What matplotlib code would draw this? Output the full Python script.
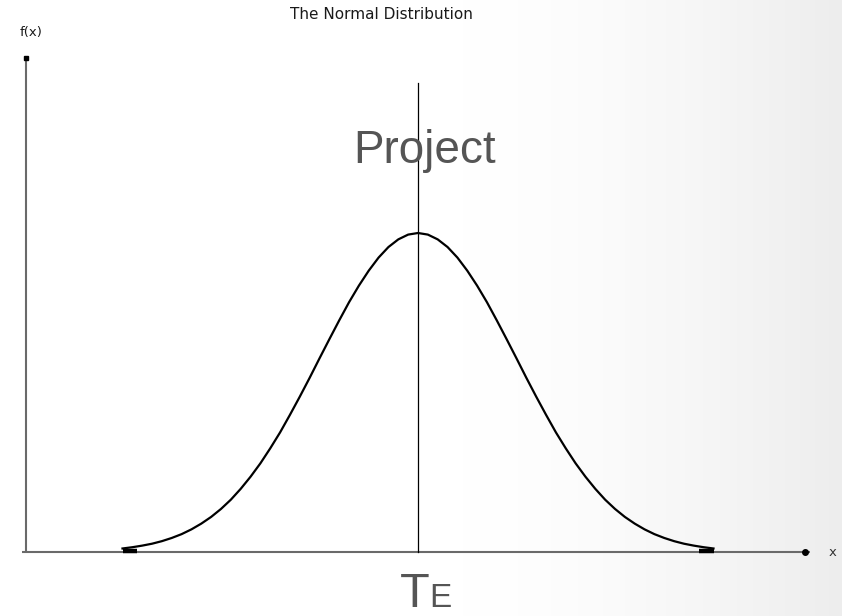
import numpy as np
import matplotlib.pyplot as plt

# curve heights (relative to the peak), x in sigma units
x_vals = [-3.0, -2.9, -2.8, -2.7, -2.6, -2.5, -2.4, -2.3, -2.2, -2.1,
          -2.0, -1.9, -1.8, -1.7, -1.6, -1.5, -1.4, -1.3, -1.2, -1.1,
          -1.0, -0.9, -0.8, -0.7, -0.6, -0.5, -0.4, -0.3, -0.2, -0.1,
          0.0, 0.1, 0.2, 0.3, 0.4, 0.5, 0.6, 0.7, 0.8, 0.9,
          1.0, 1.1, 1.2, 1.3, 1.4, 1.5, 1.6, 1.7, 1.8, 1.9,
          2.0, 2.1, 2.2, 2.3, 2.4, 2.5, 2.6, 2.7, 2.8, 2.9, 3.0]
f_vals = [0.011, 0.015, 0.020, 0.026, 0.034, 0.044, 0.056, 0.071, 0.089, 0.110,
          0.135, 0.164, 0.198, 0.236, 0.278, 0.325, 0.375, 0.430, 0.487, 0.546,
          0.607, 0.667, 0.726, 0.783, 0.835, 0.882, 0.923, 0.956, 0.980, 0.995,
          1.000, 0.995, 0.980, 0.956, 0.923, 0.882, 0.835, 0.783, 0.726, 0.667,
          0.607, 0.546, 0.487, 0.430, 0.375, 0.325, 0.278, 0.236, 0.198, 0.164,
          0.135, 0.110, 0.089, 0.071, 0.056, 0.044, 0.034, 0.026, 0.020, 0.015, 0.011]
mean_x = 0.0

title_text = 'The Normal Distribution'
y_label = 'f(x)'
x_label = 'x'
big_label = 'Project'

px_per_x = 98.5
px_per_y = 319.0
x0_px = 418
y0_px = 64   # from bottom

fig = plt.figure(figsize=(8.42, 6.16), dpi=100)

# slide background, white fading to light grey on the right
bg = fig.add_axes([0, 0, 1, 1])
cols = np.linspace(0, 1, 842)
grad = np.clip((cols - 0.55) / 0.45, 0, 1)
shade = 1.0 - 0.07*grad**1.5
img = np.tile(shade, (616, 1))
bg.imshow(np.dstack([img, img, img]), aspect='auto', extent=[0, 1, 0, 1])
bg.axis('off')

ax = fig.add_axes([0, 0, 1, 1])
ax.patch.set_alpha(0)
ax.set_xlim(-x0_px/px_per_x, (842 - x0_px)/px_per_x)
ax.set_ylim(-y0_px/px_per_y, (616 - y0_px)/px_per_y)
ax.axis('off')

def px_x(p): return (p - x0_px)/px_per_x
def px_y(p): return (616 - y0_px - p)/px_per_y

axis_color = '#6a6a6a'
# axes with dot ends
ax.plot([px_x(26), px_x(26)], [0, px_y(58)], color=axis_color, lw=1.5, solid_capstyle='butt')
ax.plot([px_x(22), px_x(810)], [0, 0], color=axis_color, lw=1.5, solid_capstyle='butt')
ax.plot([px_x(26)], [px_y(58)], 's', ms=3.0, color='black')
ax.plot([px_x(805)], [0], 'o', ms=4, color='black')

# mean line
ax.plot([mean_x, mean_x], [0, px_y(83)], color='black', lw=0.9)

# the curve
ax.plot(x_vals, f_vals, color='black', lw=1.6, solid_joinstyle='round')
# thick stubs where the tails meet the baseline
ax.plot([x_vals[0], x_vals[1] + 0.05], [0.004, 0.004], color='black', lw=3.2, solid_capstyle='butt')
ax.plot([x_vals[-1], x_vals[-2] - 0.05], [0.004, 0.004], color='black', lw=3.2, solid_capstyle='butt')

ax.text(px_x(381), px_y(15), title_text, ha='center', va='center', fontsize=11,
        color='#1a1a1a', family='DejaVu Sans')
ax.text(px_x(31), px_y(33), y_label, ha='center', va='center', fontsize=9.5,
        color='#1a1a1a', family='DejaVu Sans')
ax.text(px_x(833), px_y(553), x_label, ha='center', va='center', fontsize=9.5,
        color='#333333', family='DejaVu Sans')

ax.text(px_x(425), px_y(163), big_label, ha='center', va='baseline', fontsize=33,
        color='#555555', family='Liberation Sans')
ax.text(px_x(400), px_y(607), 'T', ha='left', va='baseline', fontsize=35,
        color='#555555', family='Liberation Sans')
ax.text(px_x(429), px_y(607), 'E', ha='left', va='baseline', fontsize=24,
        color='#555555', family='Liberation Sans')

fig.savefig('out.png', dpi=100)
